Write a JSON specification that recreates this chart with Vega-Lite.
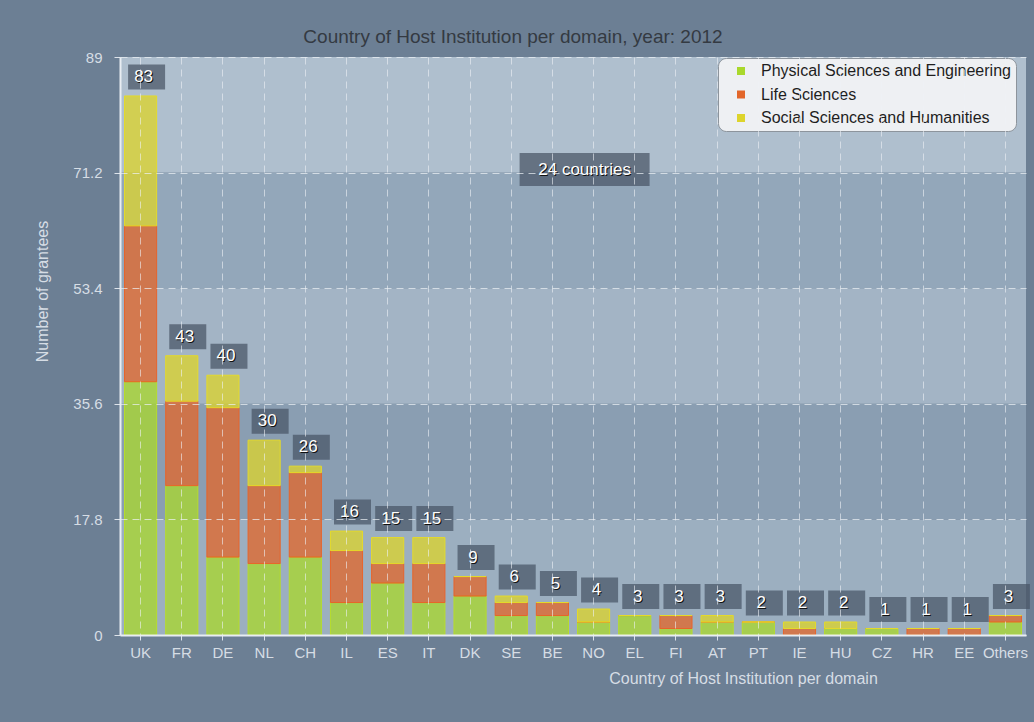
{
  "$schema": "https://vega.github.io/schema/vega-lite/v6.json",
  "autosize": "none",
  "width": 906,
  "height": 578,
  "padding": {"left": 120, "top": 57, "right": 8, "bottom": 87},
  "background": "#6c7f94",
  "title": {
    "text": "Country of Host Institution per domain, year: 2012",
    "fontSize": 19,
    "fontWeight": "normal",
    "color": "#343a42",
    "anchor": "middle",
    "frame": "group",
    "dx": -60,
    "offset": 3
  },
  "data": {
    "values": [
      {"c": "UK", "d": "Physical Sciences and Engineering", "o": 1, "n": 39},
      {"c": "UK", "d": "Life Sciences", "o": 2, "n": 24},
      {"c": "UK", "d": "Social Sciences and Humanities", "o": 3, "n": 20},
      {"c": "FR", "d": "Physical Sciences and Engineering", "o": 1, "n": 23},
      {"c": "FR", "d": "Life Sciences", "o": 2, "n": 13},
      {"c": "FR", "d": "Social Sciences and Humanities", "o": 3, "n": 7},
      {"c": "DE", "d": "Physical Sciences and Engineering", "o": 1, "n": 12},
      {"c": "DE", "d": "Life Sciences", "o": 2, "n": 23},
      {"c": "DE", "d": "Social Sciences and Humanities", "o": 3, "n": 5},
      {"c": "NL", "d": "Physical Sciences and Engineering", "o": 1, "n": 11},
      {"c": "NL", "d": "Life Sciences", "o": 2, "n": 12},
      {"c": "NL", "d": "Social Sciences and Humanities", "o": 3, "n": 7},
      {"c": "CH", "d": "Physical Sciences and Engineering", "o": 1, "n": 12},
      {"c": "CH", "d": "Life Sciences", "o": 2, "n": 13},
      {"c": "CH", "d": "Social Sciences and Humanities", "o": 3, "n": 1},
      {"c": "IL", "d": "Physical Sciences and Engineering", "o": 1, "n": 5},
      {"c": "IL", "d": "Life Sciences", "o": 2, "n": 8},
      {"c": "IL", "d": "Social Sciences and Humanities", "o": 3, "n": 3},
      {"c": "ES", "d": "Physical Sciences and Engineering", "o": 1, "n": 8},
      {"c": "ES", "d": "Life Sciences", "o": 2, "n": 3},
      {"c": "ES", "d": "Social Sciences and Humanities", "o": 3, "n": 4},
      {"c": "IT", "d": "Physical Sciences and Engineering", "o": 1, "n": 5},
      {"c": "IT", "d": "Life Sciences", "o": 2, "n": 6},
      {"c": "IT", "d": "Social Sciences and Humanities", "o": 3, "n": 4},
      {"c": "DK", "d": "Physical Sciences and Engineering", "o": 1, "n": 6},
      {"c": "DK", "d": "Life Sciences", "o": 2, "n": 3},
      {"c": "DK", "d": "Social Sciences and Humanities", "o": 3, "n": 0},
      {"c": "SE", "d": "Physical Sciences and Engineering", "o": 1, "n": 3},
      {"c": "SE", "d": "Life Sciences", "o": 2, "n": 2},
      {"c": "SE", "d": "Social Sciences and Humanities", "o": 3, "n": 1},
      {"c": "BE", "d": "Physical Sciences and Engineering", "o": 1, "n": 3},
      {"c": "BE", "d": "Life Sciences", "o": 2, "n": 2},
      {"c": "BE", "d": "Social Sciences and Humanities", "o": 3, "n": 0},
      {"c": "NO", "d": "Physical Sciences and Engineering", "o": 1, "n": 2},
      {"c": "NO", "d": "Life Sciences", "o": 2, "n": 0},
      {"c": "NO", "d": "Social Sciences and Humanities", "o": 3, "n": 2},
      {"c": "EL", "d": "Physical Sciences and Engineering", "o": 1, "n": 3},
      {"c": "EL", "d": "Life Sciences", "o": 2, "n": 0},
      {"c": "EL", "d": "Social Sciences and Humanities", "o": 3, "n": 0},
      {"c": "FI", "d": "Physical Sciences and Engineering", "o": 1, "n": 1},
      {"c": "FI", "d": "Life Sciences", "o": 2, "n": 2},
      {"c": "FI", "d": "Social Sciences and Humanities", "o": 3, "n": 0},
      {"c": "AT", "d": "Physical Sciences and Engineering", "o": 1, "n": 2},
      {"c": "AT", "d": "Life Sciences", "o": 2, "n": 0},
      {"c": "AT", "d": "Social Sciences and Humanities", "o": 3, "n": 1},
      {"c": "PT", "d": "Physical Sciences and Engineering", "o": 1, "n": 2},
      {"c": "PT", "d": "Life Sciences", "o": 2, "n": 0},
      {"c": "PT", "d": "Social Sciences and Humanities", "o": 3, "n": 0},
      {"c": "IE", "d": "Physical Sciences and Engineering", "o": 1, "n": 0},
      {"c": "IE", "d": "Life Sciences", "o": 2, "n": 1},
      {"c": "IE", "d": "Social Sciences and Humanities", "o": 3, "n": 1},
      {"c": "HU", "d": "Physical Sciences and Engineering", "o": 1, "n": 1},
      {"c": "HU", "d": "Life Sciences", "o": 2, "n": 0},
      {"c": "HU", "d": "Social Sciences and Humanities", "o": 3, "n": 1},
      {"c": "CZ", "d": "Physical Sciences and Engineering", "o": 1, "n": 1},
      {"c": "CZ", "d": "Life Sciences", "o": 2, "n": 0},
      {"c": "CZ", "d": "Social Sciences and Humanities", "o": 3, "n": 0},
      {"c": "HR", "d": "Physical Sciences and Engineering", "o": 1, "n": 0},
      {"c": "HR", "d": "Life Sciences", "o": 2, "n": 1},
      {"c": "HR", "d": "Social Sciences and Humanities", "o": 3, "n": 0},
      {"c": "EE", "d": "Physical Sciences and Engineering", "o": 1, "n": 0},
      {"c": "EE", "d": "Life Sciences", "o": 2, "n": 1},
      {"c": "EE", "d": "Social Sciences and Humanities", "o": 3, "n": 0},
      {"c": "Others", "d": "Physical Sciences and Engineering", "o": 1, "n": 2},
      {"c": "Others", "d": "Life Sciences", "o": 2, "n": 1},
      {"c": "Others", "d": "Social Sciences and Humanities", "o": 3, "n": 0}
    ]
  },
  "layer": [
    {
      "data": {
        "values": [
          {"band": "b1", "lo": 0, "hi": 17.8},
          {"band": "b2", "lo": 17.8, "hi": 35.6},
          {"band": "b3", "lo": 35.6, "hi": 53.4},
          {"band": "b4", "lo": 53.4, "hi": 71.2},
          {"band": "b5", "lo": 71.2, "hi": 89}
        ]
      },
      "mark": {"type": "rect"},
      "encoding": {
        "y": {"field": "lo", "type": "quantitative", "scale": {"domain": [0, 89], "nice": false, "zero": true}},
        "y2": {"field": "hi"},
        "fill": {
          "field": "band",
          "type": "nominal",
          "scale": {"domain": ["b1", "b2", "b3", "b4", "b5"], "range": ["#9cafc0", "#8a9eb2", "#a3b4c5", "#93a7ba", "#afbfce"]},
          "legend": null
        }
      }
    },
    {
      "mark": {"type": "bar", "fillOpacity": 0.76, "strokeWidth": 1},
      "encoding": {
        "x": {
          "field": "c",
          "type": "nominal",
          "sort": null,
          "scale": {
            "domain": ["UK", "FR", "DE", "NL", "CH", "IL", "ES", "IT", "DK", "SE", "BE", "NO", "EL", "FI", "AT", "PT", "IE", "HU", "CZ", "HR", "EE", "Others"],
            "paddingInner": 0.22
          },
          "axis": {
            "title": "Country of Host Institution per domain",
            "labelAngle": 0,
            "bandPosition": 0.5,
            "grid": true,
            "gridDash": [7, 5],
            "gridColor": "#eef2f6",
            "gridOpacity": 0.6,
            "labelFontSize": 15,
            "labelColor": "#d6dde5",
            "labelOverlap": false,
            "labelPadding": 5,
            "tickSize": 5,
            "tickColor": "#dde3ea",
            "domainColor": "#e8edf2",
            "domainWidth": 2,
            "titleFontSize": 16,
            "titleFontWeight": "normal",
            "titleColor": "#d6dde5",
            "titleX": 623,
            "titleY": 43,
            "titleAlign": "center",
            "titleBaseline": "middle",
            "zindex": 1
          }
        },
        "y": {
          "field": "n",
          "type": "quantitative",
          "stack": "zero",
          "scale": {"domain": [0, 89], "nice": false},
          "axis": {
            "title": "Number of grantees",
            "values": [0, 17.8, 35.6, 53.4, 71.2, 89],
            "labelExpr": "toString(datum.value)",
            "grid": true,
            "gridDash": [7, 5],
            "gridColor": "#eef2f6",
            "gridOpacity": 0.7,
            "labelFontSize": 15,
            "labelColor": "#d6dde5",
            "labelPadding": 12,
            "tickSize": 6,
            "tickColor": "#dde3ea",
            "domainColor": "#e8edf2",
            "domainWidth": 2,
            "titleFontSize": 16,
            "titleFontWeight": "normal",
            "titleColor": "#d6dde5",
            "titleX": -78,
            "titleY": 234,
            "titleAngle": -90,
            "titleAlign": "center",
            "titleBaseline": "middle",
            "zindex": 1
          }
        },
        "color": {
          "field": "d",
          "type": "nominal",
          "scale": {
            "domain": ["Physical Sciences and Engineering", "Life Sciences", "Social Sciences and Humanities"],
            "range": ["#a9d82c", "#e2662a", "#ddd42c"]
          },
          "legend": {
            "title": null,
            "orient": "none",
            "legendX": 598,
            "legendY": 1,
            "fillColor": "#eef0f3",
            "strokeColor": "#8d949c",
            "cornerRadius": 8,
            "padding": 5,
            "labelFontSize": 16,
            "labelColor": "#1e1e1e",
            "labelLimit": 400,
            "labelOffset": 12,
            "symbolOffset": 10,
            "symbolType": "square",
            "symbolSize": 64,
            "symbolOpacity": 1,
            "symbolStrokeWidth": 0,
            "rowPadding": 7.5
          }
        },
        "stroke": {
          "field": "d",
          "type": "nominal",
          "scale": {
            "domain": ["Physical Sciences and Engineering", "Life Sciences", "Social Sciences and Humanities"],
            "range": ["#b6dc2a", "#e8642a", "#e4da2a"]
          },
          "legend": null
        },
        "order": {"field": "o", "type": "quantitative"}
      }
    },
    {
      "mark": {"type": "point", "filled": true, "shape": "M-1,-0.676L1,-0.676L1,0.676L-1,0.676Z", "size": 1369, "fill": "#485565", "fillOpacity": 0.72, "strokeWidth": 0, "xOffset": 6, "yOffset": -19},
      "encoding": {
        "x": {"field": "c", "type": "nominal"},
        "y": {"aggregate": "sum", "field": "n", "type": "quantitative"}
      }
    },
    {
      "mark": {"type": "text", "fontSize": 17, "color": "#111111", "xOffset": 4, "yOffset": -18, "baseline": "middle"},
      "encoding": {
        "x": {"field": "c", "type": "nominal"},
        "y": {"aggregate": "sum", "field": "n", "type": "quantitative"},
        "text": {"aggregate": "sum", "field": "n", "type": "quantitative"}
      }
    },
    {
      "mark": {"type": "text", "fontSize": 17, "color": "#ffffff", "xOffset": 3, "yOffset": -19, "baseline": "middle"},
      "encoding": {
        "x": {"field": "c", "type": "nominal"},
        "y": {"aggregate": "sum", "field": "n", "type": "quantitative"},
        "text": {"aggregate": "sum", "field": "n", "type": "quantitative"}
      }
    },
    {
      "data": {"values": [{"c": "NO", "v": 71.2, "label": "24 countries"}]},
      "layer": [
        {
          "mark": {"type": "point", "filled": true, "shape": "M-1,-0.254L1,-0.254L1,0.254L-1,0.254Z", "size": 16900, "fill": "#485565", "fillOpacity": 0.72, "strokeWidth": 0, "xOffset": -9, "yOffset": -3},
          "encoding": {
            "x": {"field": "c", "type": "nominal"},
            "y": {"field": "v", "type": "quantitative"}
          }
        },
        {
          "mark": {"type": "text", "fontSize": 17, "color": "#111111", "xOffset": -8, "yOffset": -2, "baseline": "middle"},
          "encoding": {
            "x": {"field": "c", "type": "nominal"},
            "y": {"field": "v", "type": "quantitative"},
            "text": {"field": "label"}
          }
        },
        {
          "mark": {"type": "text", "fontSize": 17, "color": "#ffffff", "xOffset": -9, "yOffset": -3, "baseline": "middle"},
          "encoding": {
            "x": {"field": "c", "type": "nominal"},
            "y": {"field": "v", "type": "quantitative"},
            "text": {"field": "label"}
          }
        }
      ]
    }
  ],
  "resolve": {"scale": {"fill": "independent"}},
  "config": {
    "font": "Liberation Sans",
    "view": {"stroke": null}
  }
}
